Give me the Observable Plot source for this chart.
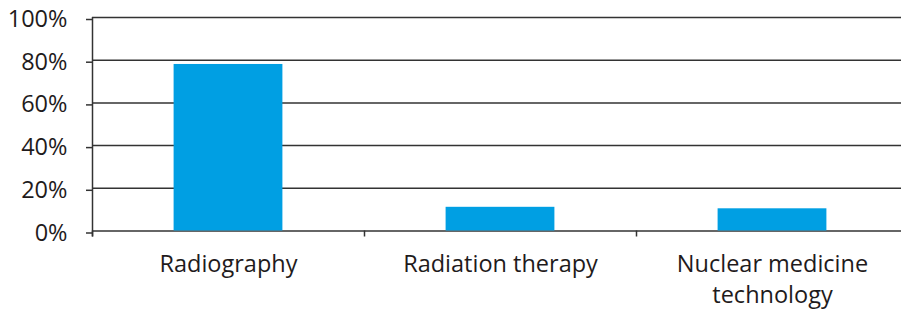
<!DOCTYPE html>
<html>
<head>
<meta charset="utf-8">
<script src="https://cdn.jsdelivr.net/npm/d3@7"></script>
<script src="https://cdn.jsdelivr.net/npm/@observablehq/plot@0.6"></script>
<style>
  html, body { margin: 0; padding: 0; background: #fff; overflow: hidden; }
  #chart { width: 901px; height: 309px; overflow: hidden; }
</style>
</head>
<body>
<div id="chart"></div>
<script>
const categories = ["Radiography", "Radiation therapy", "Nuclear medicine\ntechnology"];
const values = [0.78, 0.111, 0.104];
const yTicks = [0, 0.2, 0.4, 0.6, 0.8, 1.0];

const barFrac = 0.4; // share of each category slot filled by the bar
const rows = categories.map((c, i) => ({
  category: c,
  value: values[i],
  x1: i + (1 - barFrac) / 2,
  x2: i + (1 + barFrac) / 2
}));
const boundaries = d3.range(categories.length + 1);
const centers = categories.map((c, i) => i + 0.5);

const ink = "#1f1b1c";
const lineColor = "#333333";
const chart = Plot.plot({
  width: 908,
  height: 309,
  marginLeft: 92,
  marginRight: 0,
  marginTop: 17,
  marginBottom: 78.5,
  style: { fontFamily: "'Open Sans', sans-serif", color: ink, background: "#fff", overflow: "visible", maxWidth: "none" },
  x: { type: "linear", domain: [0, categories.length], axis: null },
  y: { domain: [0, 1], axis: null },
  marks: [
    Plot.ruleY(yTicks, { stroke: lineColor, strokeWidth: 1.5 }),
    Plot.rectY(rows, { x1: "x1", x2: "x2", y: "value", fill: "#009fe3" }),
    Plot.ruleX([0], { stroke: lineColor, strokeWidth: 1.5, insetBottom: -6 }),
    Plot.ruleX(boundaries, { y1: 0, y2: 0, stroke: lineColor, strokeWidth: 1.5, insetBottom: -6 }),
    Plot.axisY({
      ticks: yTicks,
      tickFormat: d3.format(".0%"),
      tickSize: 6,
      tickPadding: 19,
      fontSize: 23.5,
      stroke: lineColor,
      strokeWidth: 1.5,
      fill: ink,
      label: null,
      dy: 2
    }),
    Plot.axisX({
      ticks: centers,
      tickFormat: (d) => categories[Math.round(d - 0.5)],
      tickSize: 0,
      tickPadding: 19,
      fontSize: 23.5,
      lineHeight: 1.32,
      fill: ink,
      label: null
    })
  ]
});
document.getElementById("chart").appendChild(chart);
</script>
</body>
</html>
